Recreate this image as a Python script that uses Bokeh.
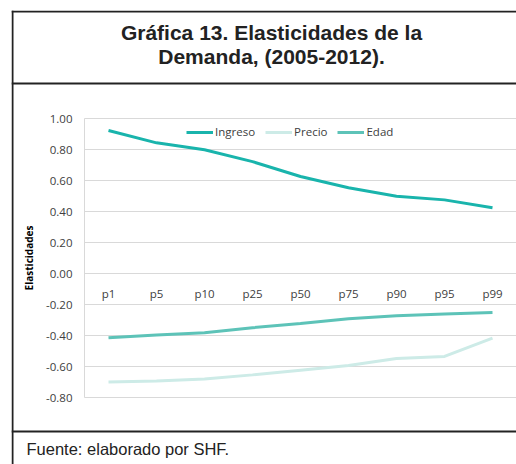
from bokeh.plotting import figure
from bokeh.models import (Range1d, FixedTicker, NumeralTickFormatter, Legend, LegendItem,
                          BoxAnnotation, Label)
from bokeh.embed import file_html
from bokeh.resources import INLINE

categories = ["p1", "p5", "p10", "p25", "p50", "p75", "p90", "p95", "p99"]
ingreso = [0.923, 0.843, 0.798, 0.722, 0.626, 0.553, 0.499, 0.475, 0.424]
precio = [-0.700, -0.693, -0.680, -0.654, -0.624, -0.594, -0.548, -0.535, -0.417]
edad = [-0.415, -0.396, -0.383, -0.350, -0.322, -0.292, -0.273, -0.262, -0.252]
y_ticks = [-0.8, -0.6, -0.4, -0.2, 0.0, 0.2, 0.4, 0.6, 0.8, 1.0]

title_lines = ["Gráfica 13. Elasticidades de la", "Demanda, (2005-2012)."]
footer = "Fuente: elaborado por SHF."

FONT = "Open Sans"
DARK = "#222222"
GRID = "#D9D9D9"

W, H = 516, 464
BOX_L, BOX_T = 11, 10            # outer box corner (px)
PLOT_L, PLOT_T, PLOT_B = 84, 118, 397   # chart area (px)
BAND = (W - PLOT_L) / len(categories)
YMIN, YMAX = y_ticks[0], y_ticks[-1]
PX_PER_UNIT = (PLOT_B - PLOT_T) / (YMAX - YMIN)

xpos = list(range(len(categories)))
x_lo = -0.5
x_hi = len(categories) - 0.5
x_start = x_lo - (PLOT_L - BOX_L) / BAND
y_top = YMAX + (PLOT_T - BOX_T) / PX_PER_UNIT
y_bot = YMIN - (H - PLOT_B) / PX_PER_UNIT

p = figure(width=W, height=H, x_range=Range1d(x_start, x_hi), y_range=Range1d(y_bot, y_top),
           output_backend="svg", toolbar_location=None,
           min_border_left=BOX_L, min_border_top=BOX_T, min_border_right=0,
           min_border_bottom=0)
p.outline_line_color = None
p.background_fill_color = "white"
p.border_fill_color = "white"
p.grid.visible = False

# horizontal gridlines over the chart area only
p.segment(x0=[x_lo] * len(y_ticks), x1=[x_hi] * len(y_ticks), y0=y_ticks, y1=y_ticks,
          line_color=GRID, line_width=1)

# y axis placed at the chart's left edge
yax = p.yaxis[0]
yax.fixed_location = x_lo
yax.bounds = (YMIN, YMAX)
yax.ticker = FixedTicker(ticks=y_ticks)
yax.formatter = NumeralTickFormatter(format="0.00")
yax.axis_line_color = GRID
yax.major_tick_line_color = None
yax.minor_tick_line_color = None
yax.major_tick_out = 0
yax.minor_tick_out = 0
yax.major_label_text_font = FONT
yax.major_label_text_font_size = "11.5px"
yax.major_label_text_color = "#404040"
yax.major_label_standoff = 12
yax.axis_label = "Elasticidades"
yax.axis_label_text_font = FONT
yax.axis_label_text_font_style = "bold"
yax.axis_label_text_font_size = "10px"
yax.axis_label_text_color = "#000000"
yax.axis_label_standoff = 7

# category axis at y = 0
xax = p.xaxis[0]
xax.fixed_location = 0
xax.bounds = (x_lo, x_hi)
xax.ticker = FixedTicker(ticks=xpos)
xax.major_label_overrides = {i: c for i, c in zip(xpos, categories)}
xax.axis_line_color = None
xax.major_tick_line_color = None
xax.minor_tick_line_color = None
xax.major_tick_out = 0
xax.minor_tick_out = 0
xax.major_label_text_font = FONT
xax.major_label_text_font_size = "11.5px"
xax.major_label_text_color = "#404040"
xax.major_label_standoff = 12

r_ing = p.line(xpos, ingreso, line_color="#19B4AC", line_width=3)
r_pre = p.line(xpos, precio, line_color="#CDEBE7", line_width=3)
r_eda = p.line(xpos, edad, line_color="#5DC3B8", line_width=3)

legend = Legend(items=[LegendItem(label="Ingreso", renderers=[r_ing]),
                       LegendItem(label="Precio", renderers=[r_pre]),
                       LegendItem(label="Edad", renderers=[r_eda])],
                orientation="horizontal", location=(186 - BOX_L, H - 139),
                border_line_color=None, background_fill_alpha=0,
                label_text_font=FONT, label_text_font_size="11.5px",
                label_text_color="#404040", glyph_width=27, glyph_height=14,
                label_standoff=2, spacing=10, padding=0, margin=0,
                label_height=14)
p.add_layout(legend, "center")


def rule(left, right, top, bottom):
    p.add_layout(BoxAnnotation(left=left, right=right, top=top, bottom=bottom,
                               left_units="canvas", right_units="canvas",
                               top_units="canvas", bottom_units="canvas",
                               fill_color=DARK, fill_alpha=1, line_alpha=0,
                               level="overlay"))


rule(BOX_L, BOX_L + 2, BOX_T, H)       # left border
rule(BOX_L, W, BOX_T, BOX_T + 2)       # top border
rule(BOX_L, W, 82, 84)                 # title separator
rule(BOX_L, W, 430, 432)               # footer separator

for txt, yy in [(title_lines[0], 32), (title_lines[1], 55.5)]:
    p.add_layout(Label(x=271, y=yy, x_units="canvas", y_units="canvas", text=txt,
                       text_align="center", text_baseline="alphabetic",
                       text_font="Liberation Sans", text_font_style="bold",
                       text_font_size="21px", text_color=DARK))

p.add_layout(Label(x=26, y=448, x_units="canvas", y_units="canvas", text=footer,
                   text_align="left", text_baseline="alphabetic",
                   text_font="Liberation Sans", text_font_size="16.5px",
                   text_color=DARK))

open("out.html", "w").write(file_html(p, INLINE))
